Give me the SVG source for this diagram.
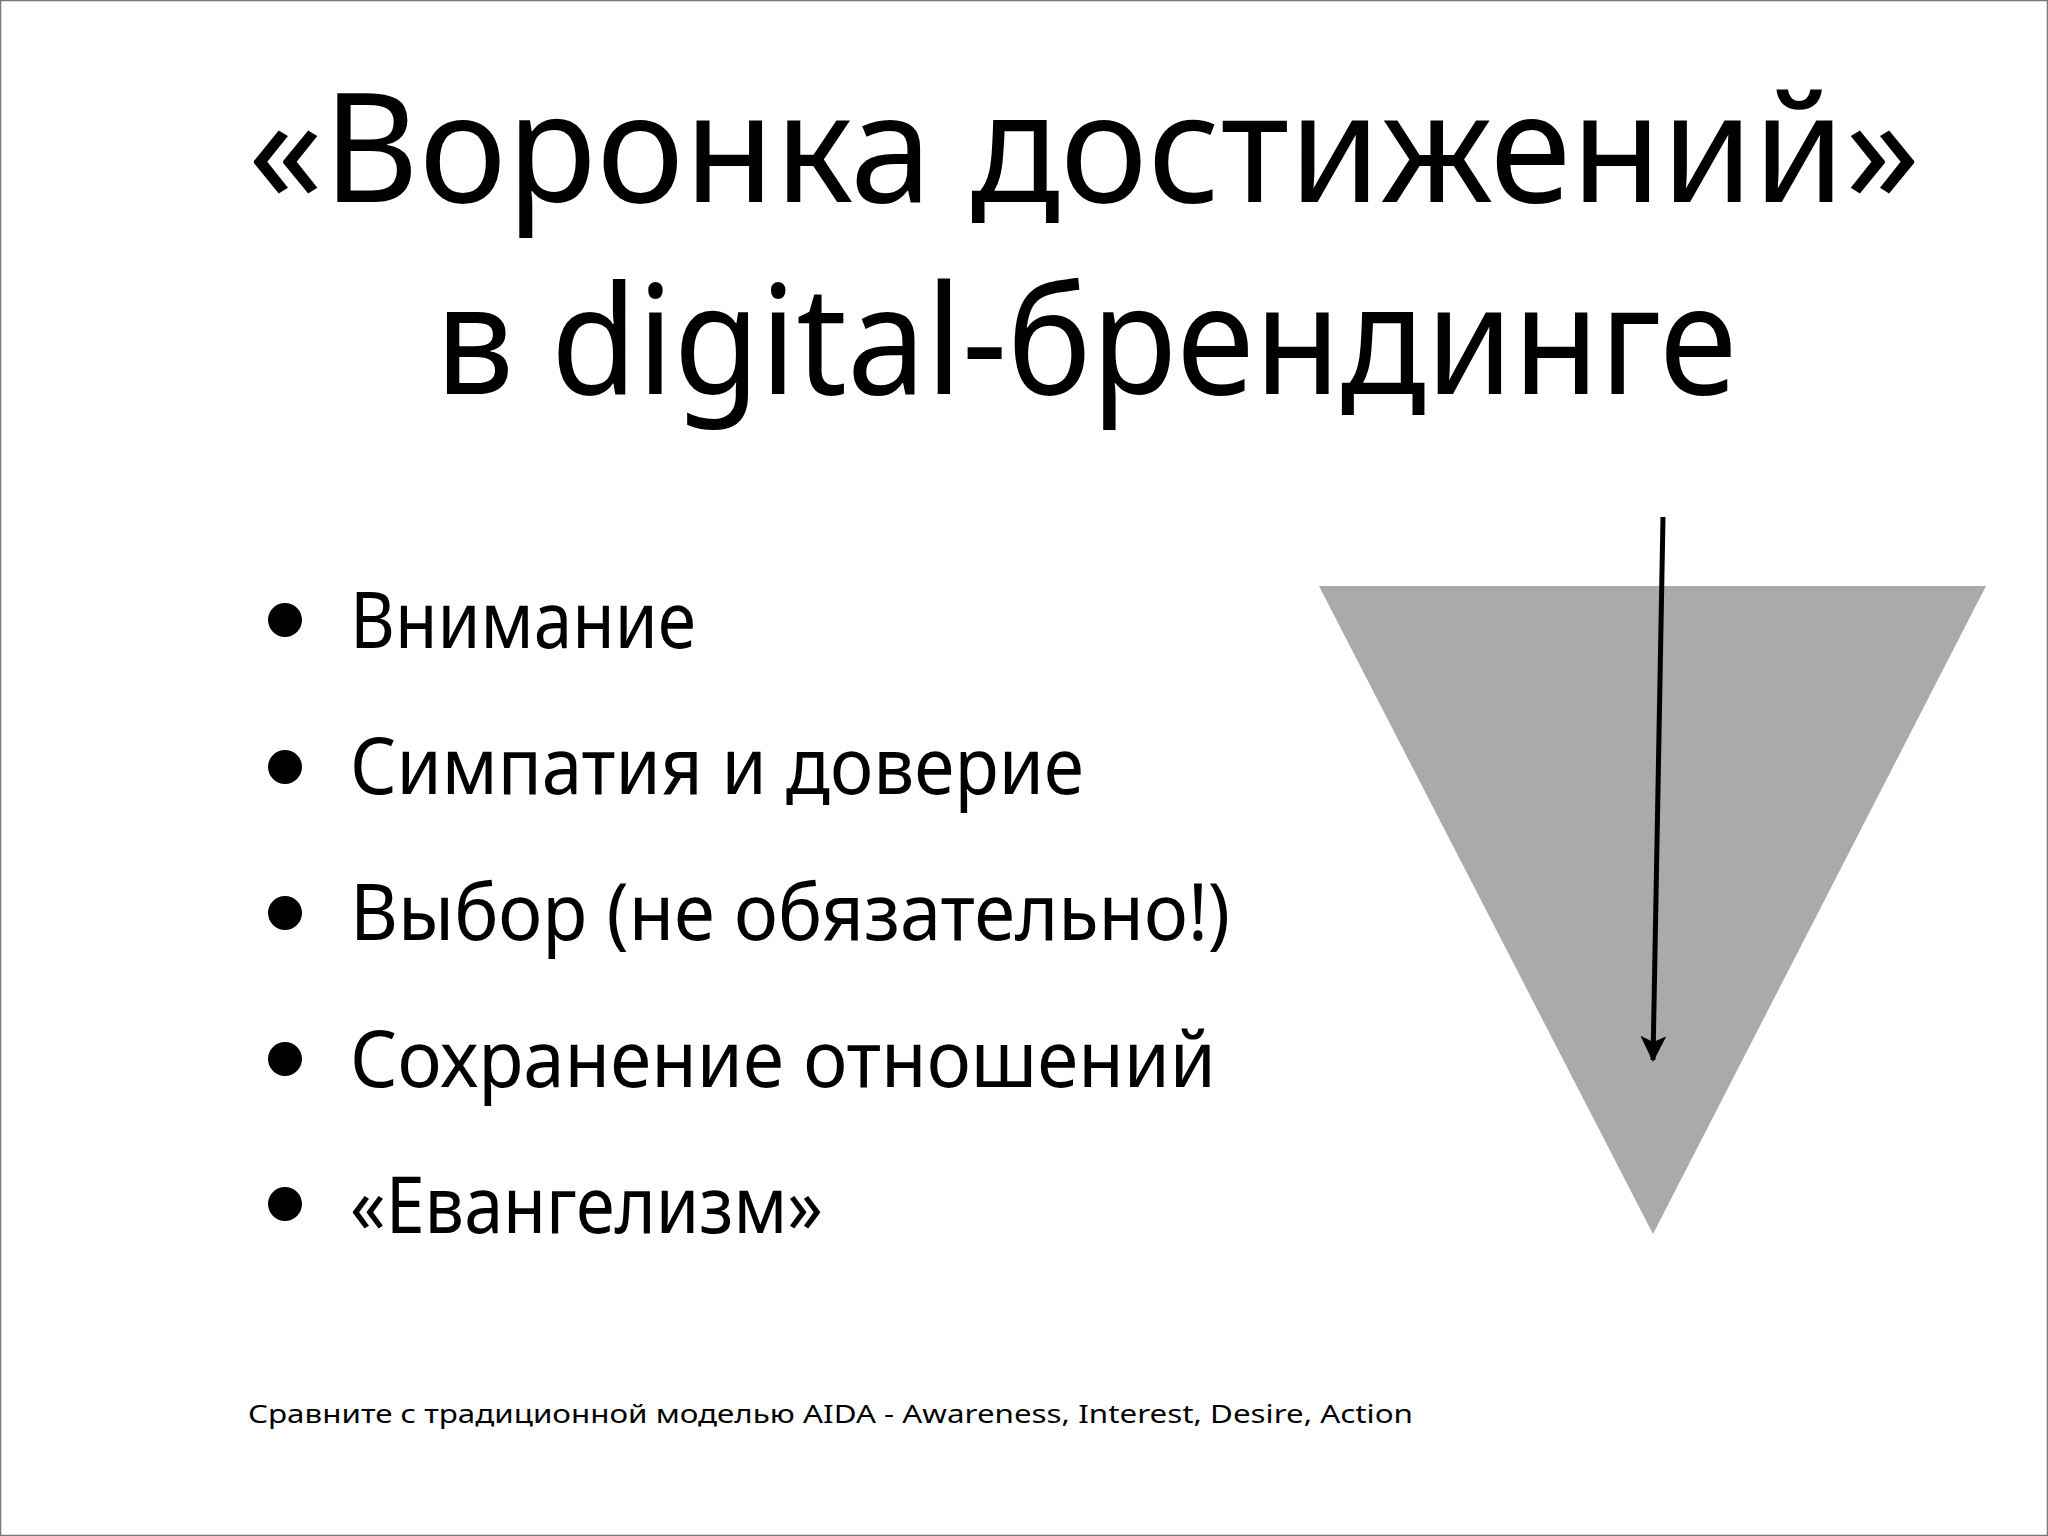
<svg xmlns="http://www.w3.org/2000/svg" width="2048" height="1536" viewBox="0 0 2048 1536">
  <style>
    .t { font-family: "Noto Sans", "Open Sans", sans-serif; fill: #000; }
    .title { font-size: 152px; }
    .item { font-size: 78px; }
    .foot { font-size: 26px; }
  </style>
  <defs>
    <marker id="arr" viewBox="0 0 26 26" refX="24" refY="13" markerWidth="26" markerHeight="26" markerUnits="userSpaceOnUse" orient="auto">
      <path d="M0,0 L26,13 L0,26 L6,13 Z" fill="#000"/>
    </marker>
  </defs>
  <rect x="0" y="0" width="2048" height="1536" fill="#fff"/>
  <rect x="0.5" y="0.5" width="2047" height="1535" fill="none" stroke="#777" stroke-width="1.5"/>

  <g id="title">
    <text class="t title" x="248" y="202" textLength="1672" lengthAdjust="spacingAndGlyphs">«Воронка достижений»</text>
    <text class="t title" x="435" y="394" textLength="1302" lengthAdjust="spacingAndGlyphs">в digital-брендинге</text>
  </g>

  <g id="list">
    <g id="item1"><circle cx="285" cy="620" r="17"/><text class="t item" x="350" y="648" textLength="346" lengthAdjust="spacingAndGlyphs">Внимание</text></g>
    <g id="item2"><circle cx="285" cy="767" r="17"/><text class="t item" x="350" y="794" textLength="734" lengthAdjust="spacingAndGlyphs">Симпатия и доверие</text></g>
    <g id="item3"><circle cx="285" cy="913" r="17"/><text class="t item" x="350" y="940" textLength="880" lengthAdjust="spacingAndGlyphs">Выбор (не обязательно!)</text></g>
    <g id="item4"><circle cx="285" cy="1059" r="17"/><text class="t item" x="350" y="1087" textLength="866" lengthAdjust="spacingAndGlyphs">Сохранение отношений</text></g>
    <g id="item5"><circle cx="285" cy="1204" r="17"/><text class="t item" x="350" y="1233" textLength="473" lengthAdjust="spacingAndGlyphs">«Евангелизм»</text></g>
  </g>

  <g id="funnel">
    <polygon points="1319,586 1986,586 1653,1234" fill="#aaaaaa"/>
  </g>

  <g id="connectors">
    <line x1="1663" y1="517" x2="1653" y2="1060" stroke="#000" stroke-width="5" marker-end="url(#arr)"/>
  </g>

  <g id="footer">
    <text class="t foot" x="248" y="1423" textLength="1165" lengthAdjust="spacingAndGlyphs">Сравните с традиционной моделью AIDA - Awareness, Interest, Desire, Action</text>
  </g>
</svg>
